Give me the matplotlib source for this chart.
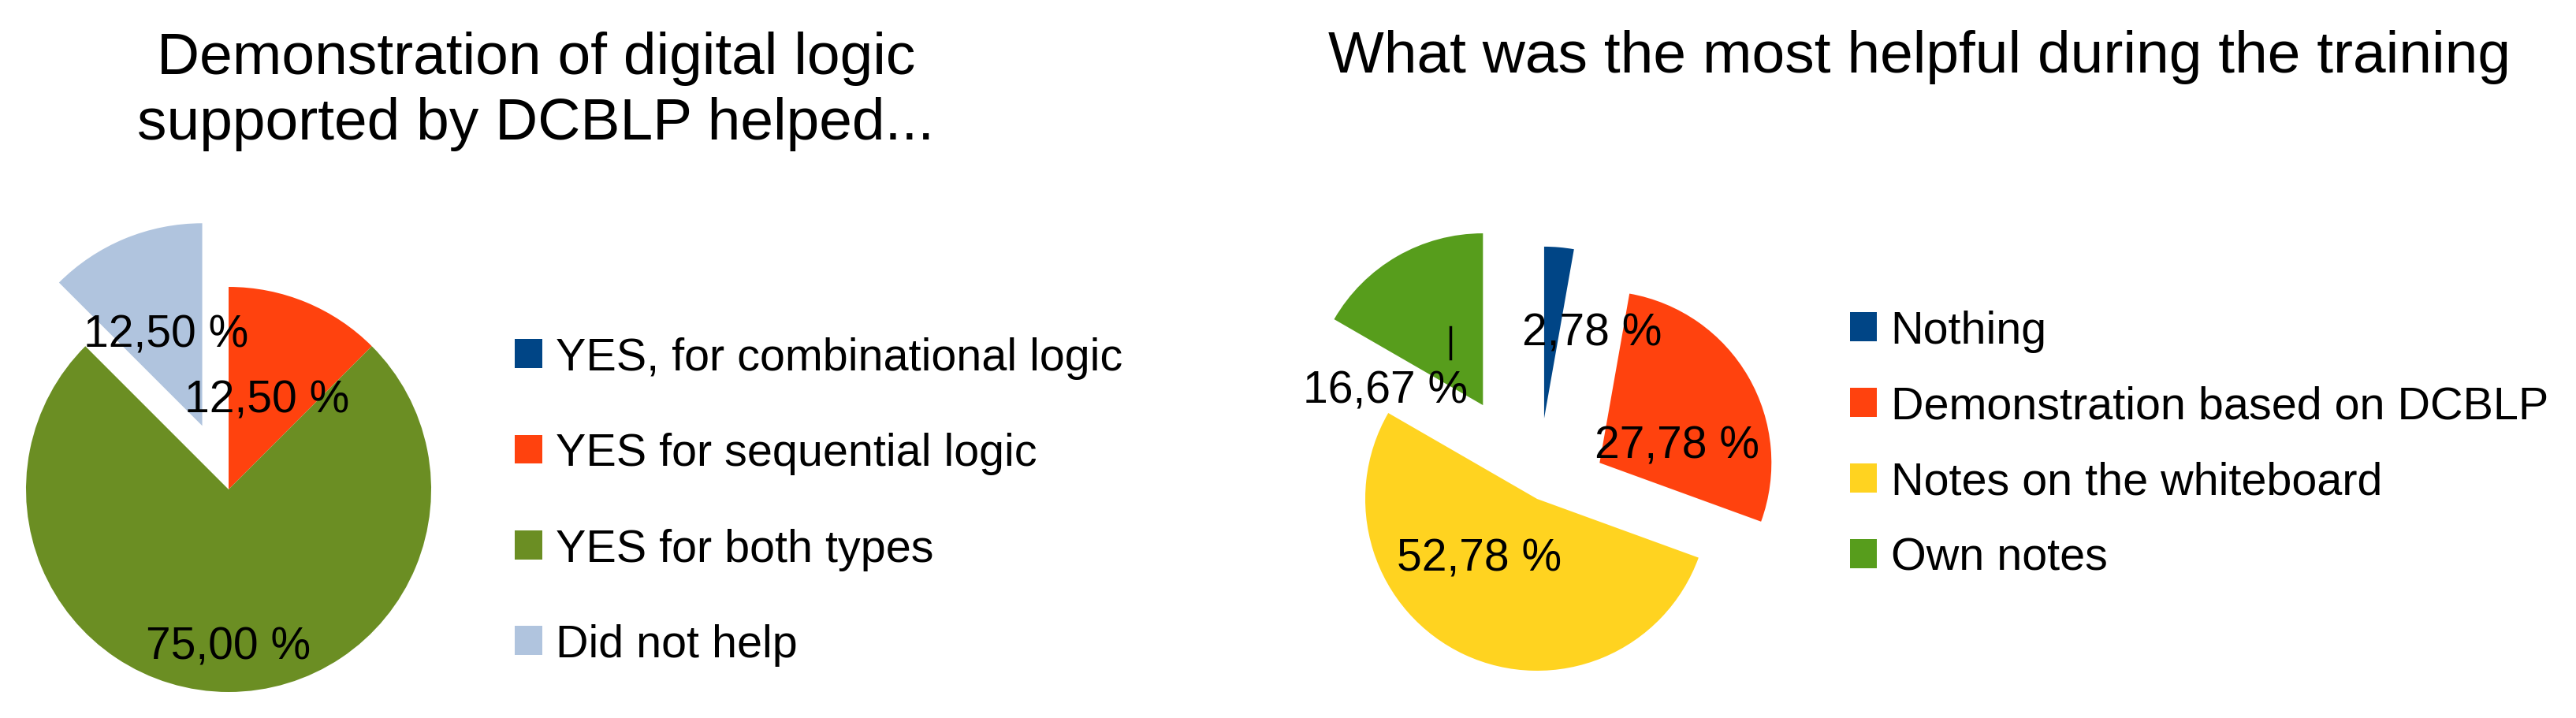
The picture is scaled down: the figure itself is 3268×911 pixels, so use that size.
import matplotlib
matplotlib.use("Agg")
import matplotlib.pyplot as plt

plt.rcParams['font.family'] = ['Liberation Sans', 'DejaVu Sans']

# left chart data
left_title = "Demonstration of digital logic\nsupported by DCBLP helped..."
left_labels = ["YES, for combinational logic", "YES for sequential logic",
               "YES for both types", "Did not help"]
left_values = [0.0, 12.50, 75.00, 12.50]
left_colors = ['#004586', '#ff420e', '#6b8e23', '#b0c4de']

# right chart data
right_title = "What was the most helpful during the training"
right_labels = ["Nothing", "Demonstration based on DCBLP",
                "Notes on the whiteboard", "Own notes"]
right_values = [2.78, 27.78, 52.78, 16.67]
right_colors = ['#004586', '#ff420e', '#ffd320', '#579d1c']

W, H = 3268, 912
fig = plt.figure(figsize=(W / 100, H / 100), dpi=100)
ax = fig.add_axes([0, 0, 1, 1])

FS = 41
LFS = 41.4
TFS = 54


def pct(v):
    return ("%.2f %%" % v).replace('.', ',')


def draw_pie(values, colors, labels, center, r, explode, label_pos, leg_xy, spacing):
    # explode in matplotlib is in data units, so scale by the radius
    wedges, _ = ax.pie(values, colors=colors, explode=[e * r for e in explode],
                       startangle=90, counterclock=False, center=center, radius=r,
                       wedgeprops=dict(linewidth=0))
    for v, (dx, dy) in zip(values, label_pos):
        if v == 0 or dx is None:
            continue
        ax.text(center[0] + dx * r, center[1] + dy * r - 7, pct(v), fontsize=FS,
                ha='center', va='center', color='black')
    leg = ax.legend(wedges, labels, loc='upper left', bbox_to_anchor=leg_xy,
                    bbox_transform=ax.transData, frameon=False, fontsize=LFS,
                    handlelength=0.6, handleheight=0.6, handletextpad=0.3,
                    labelspacing=spacing, borderpad=0, borderaxespad=0)
    return leg


# left pie
c1, r1 = (290, H - 622), 257
leg1 = draw_pie(left_values, left_colors, left_labels, c1, r1, [0, 0, 0, 0.34],
                [(None, None), (0.19, 0.47), (0.0, -0.75), (-0.31, 0.79)],
                (653, H - 428), 1.17)
ax.add_artist(leg1)

# right pie
c2, r2 = (1950, H - 634), 218
draw_pie(right_values, right_colors, right_labels, c2, r2, [0.47, 0.42, 0, 0.63],
         [(0.32, 0.996), (0.815, 0.34), (-0.336, -0.316), (-0.881, 0.663)],
         (2347, H - 394), 0.73)
# small leader line of the "16,67 %" label
ax.plot([c2[0] - 110, c2[0] - 110], [c2[1] + 178, c2[1] + 218], color='black', lw=2.5)

ax.text(680, H - 177, left_title, fontsize=TFS, ha='center', va='baseline',
        linespacing=1.26, multialignment='center')
ax.text(2435, H - 92, right_title, fontsize=TFS, ha='center', va='baseline')

ax.set_xlim(0, W)
ax.set_ylim(0, H)
ax.set_aspect('equal')
ax.axis('off')

fig.savefig("out.png", dpi=100)
